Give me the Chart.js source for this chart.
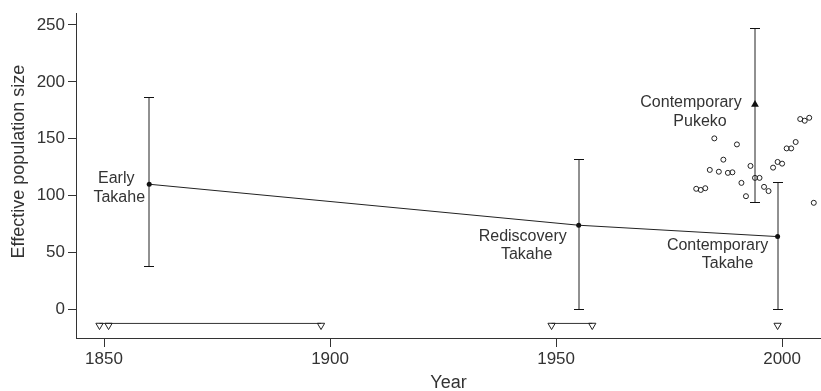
<!DOCTYPE html>
<html>
<head>
<meta charset="utf-8">
<script src="https://cdn.jsdelivr.net/npm/chart.js@4"></script>
<style>
  html, body { margin: 0; padding: 0; background: #fff; }
  #wrap { width: 821px; height: 391px; }
</style>
</head>
<body>
<div id="wrap"><canvas id="grafico"></canvas></div>
<script>
// Takahe groups: year, Ne estimate, lower/upper interval
const groupYears = [1860, 1955, 1999];
const groupNe = [110, 74, 64];
const groupLow = [38, 0, 0];
const groupHigh = [187, 132, 112];
const groupNames = [['Early', 'Takahe'], ['Rediscovery', 'Takahe'], ['Contemporary', 'Takahe']];

// Pukeko
const pukekoYear = [1994];
const pukekoNe = [180];
const pukekoLow = [94];
const pukekoHigh = [247];
const pukekoName = ['Contemporary', 'Pukeko'];

// annual estimates (open circles)
const annualYears = [1981, 1982, 1983, 1984, 1985, 1986, 1987, 1988, 1989, 1990, 1991, 1992, 1993, 1994,
  1995, 1996, 1997, 1998, 1999, 2000, 2001, 2002, 2003, 2004, 2005, 2006, 2007];
const annualNe = [106, 105, 106.5, 122.6, 150.3, 121, 131.6, 120, 120.5, 145, 111.2, 99.5, 126.1, 115.6,
  115.6, 107.7, 104, 124.6, 129.6, 128.1, 141.5, 141.5, 147.1, 167.3, 165.8, 168.4, 93.7];

// sample years along the bottom (open triangles) and the ranges joining them
const sampleYears = [1849, 1851, 1898, 1949, 1958, 1999];
const sampleNe = -14;
const rangeStart = [1849, 1949];
const rangeEnd = [1898, 1958];
const rangeNe = -12.3;

const xTicks = [1850, 1900, 1950, 2000];
const yTicks = [0, 50, 100, 150, 200, 250];
const yTitle = 'Effective population size';

const FONT = '"Liberation Sans", Arial, Helvetica, sans-serif';
const TXT = '#333';

// label offsets (px) relative to each point, one per text line
const labelOffsets = [
  [[-33, -6], [-30, 13]],
  [[-56, 11], [-52, 29]],
  [[-60, 9], [-50, 27]]
];
const pukekoOffsets = [[-64, -2], [-55, 17]];

function pares(xs, ys) {
  return xs.map((x, i) => ({ x: x, y: Array.isArray(ys) ? ys[i] : ys }));
}

const barrasErro = {
  id: 'barrasErro',
  beforeDatasetsDraw(chart) {
    const { ctx, scales: { x, y } } = chart;
    const barras = [];
    groupYears.forEach((yr, i) => barras.push([yr, groupLow[i], groupHigh[i]]));
    pukekoYear.forEach((yr, i) => barras.push([yr, pukekoLow[i], pukekoHigh[i]]));
    ctx.save();
    ctx.lineWidth = 1;
    barras.forEach(b => {
      const px = Math.round(x.getPixelForValue(b[0]));
      const y0 = Math.round(y.getPixelForValue(b[1])) + 0.5;
      const y1 = Math.round(y.getPixelForValue(b[2])) + 0.5;
      // vertical stem sits between pixels -> soft grey look of the original
      ctx.strokeStyle = '#222';
      ctx.beginPath();
      ctx.moveTo(px, y0); ctx.lineTo(px, y1);
      ctx.stroke();
      ctx.strokeStyle = '#111';
      ctx.beginPath();
      ctx.moveTo(px - 5, y0); ctx.lineTo(px + 5, y0);
      ctx.moveTo(px - 5, y1); ctx.lineTo(px + 5, y1);
      ctx.stroke();
    });
    ctx.restore();
  },
  afterDatasetsDraw(chart) {
    const { ctx, chartArea, scales: { x, y } } = chart;
    ctx.save();
    ctx.fillStyle = TXT;
    ctx.font = '16px ' + FONT;
    ctx.textAlign = 'center';
    ctx.textBaseline = 'middle';
    const escrever = (yr, ne, linhas, offs) => {
      const px = x.getPixelForValue(yr);
      const py = y.getPixelForValue(ne);
      linhas.forEach((t, j) => ctx.fillText(t, px + offs[j][0], py + offs[j][1]));
    };
    groupYears.forEach((yr, i) => escrever(yr, groupNe[i], groupNames[i], labelOffsets[i]));
    escrever(pukekoYear[0], pukekoNe[0], pukekoName, pukekoOffsets);

    // y axis title
    ctx.font = '18px ' + FONT;
    ctx.translate(19, (chartArea.top + chartArea.bottom) / 2 - 14);
    ctx.rotate(-Math.PI / 2);
    ctx.fillText(yTitle, 0, 0);
    ctx.restore();
  }
};

const datasets = [
  {
    label: 'trend',
    data: pares(groupYears, groupNe),
    showLine: true,
    borderColor: '#222',
    borderWidth: 1,
    pointRadius: 2.5,
    pointBackgroundColor: '#111',
    pointBorderColor: '#111',
    pointBorderWidth: 0
  },
  {
    label: 'pukeko',
    data: pares(pukekoYear, pukekoNe),
    pointStyle: 'triangle',
    pointRadius: 4.5,
    pointBackgroundColor: '#111',
    pointBorderColor: '#111',
    pointBorderWidth: 0
  },
  {
    label: 'annual',
    data: pares(annualYears, annualNe),
    pointRadius: 2.5,
    pointBackgroundColor: 'rgba(0,0,0,0)',
    pointBorderColor: '#222',
    pointBorderWidth: 1
  },
  {
    label: 'samples',
    data: pares(sampleYears, sampleNe),
    pointStyle: 'triangle',
    rotation: 180,
    pointRadius: 4.2,
    pointBackgroundColor: 'rgba(0,0,0,0)',
    pointBorderColor: '#222',
    pointBorderWidth: 1
  }
];
rangeStart.forEach((s, i) => {
  datasets.push({
    label: 'range' + i,
    data: pares([s, rangeEnd[i]], rangeNe),
    showLine: true,
    borderColor: '#333',
    borderWidth: 1,
    pointRadius: 0
  });
});

new Chart(document.getElementById('grafico'), {
  type: 'scatter',
  data: { datasets: datasets },
  plugins: [barrasErro],
  options: {
    responsive: true,
    maintainAspectRatio: false,
    animation: false,
    layout: { autoPadding: false, padding: { top: 12, right: 0, left: 0, bottom: 0 } },
    plugins: { legend: { display: false }, tooltip: { enabled: false } },
    scales: {
      x: {
        type: 'linear',
        min: 1843.8,
        max: 2008.6,
        afterBuildTicks: s => { s.ticks = xTicks.map(v => ({ value: v })); },
        afterFit: s => { s.height = 53; s.paddingLeft = 0; s.paddingRight = 0; },
        grid: { display: true, drawOnChartArea: false, drawTicks: true, tickLength: 9, color: '#333' },
        border: { display: true, color: '#333', width: 1 },
        ticks: { color: TXT, font: { family: FONT, size: 17 }, padding: 2, maxRotation: 0, callback: v => String(v) },
        title: { display: true, text: 'Year', color: TXT, font: { family: FONT, size: 18 }, padding: { top: 0, bottom: -3 } }
      },
      y: {
        type: 'linear',
        min: -25.1,
        max: 260.3,
        afterBuildTicks: s => { s.ticks = yTicks.map(v => ({ value: v })); },
        afterFit: s => { s.width = 76; },
        grid: { display: true, drawOnChartArea: false, drawTicks: true, tickLength: 8, color: '#333' },
        border: { display: true, color: '#333', width: 1 },
        ticks: { color: TXT, font: { family: FONT, size: 17 }, padding: 3, callback: v => String(v) }
      }
    }
  }
});
</script>
</body>
</html>
